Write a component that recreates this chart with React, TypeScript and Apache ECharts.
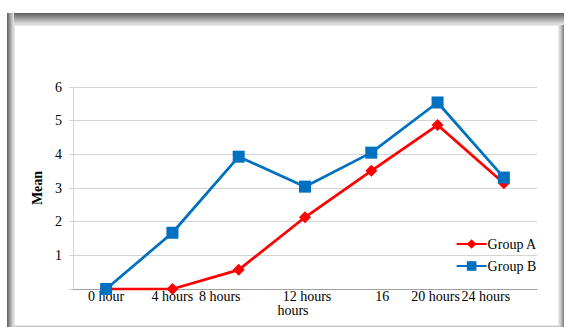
import React, { useEffect, useRef } from "react";
import * as echarts from "echarts";

const categories = ["0 hour", "4 hours", "8 hours", "12 hours\nhours", "16", "20 hours", "24 hours"];
const groupA = [0, 0, 0.57, 2.13, 3.51, 4.87, 3.14];
const groupB = [0, 1.67, 3.93, 3.04, 4.05, 5.54, 3.31];
const yTicks = [0, 1, 2, 3, 4, 5, 6];

const FONT = "'Liberation Serif', 'Times New Roman', serif";

export default function App() {
  const ref = useRef<HTMLDivElement>(null);
  useEffect(() => {
    document.body.style.margin = "0";
    const chart = echarts.init(ref.current!, null, { renderer: "svg" });
    const labelShift: Record<number, number[]> = {
      0: [0, 0, 0, 0],
      1: [0, 0, 0, 0],
      2: [0, 38, 0, 0],
      4: [0, 0, 0, 22],
      5: [0, 4, 0, 0],
      6: [0, 36, 0, 0],
    };
    const base = { fontFamily: FONT, fontSize: 14, color: "#000", lineHeight: 14 };
    const rich: any = {
      l3a: { ...base, padding: [0, 0, 0, 4] },
      l3b: { ...base, padding: [0, 24, 0, 0] },
    };
    Object.keys(labelShift).forEach((k) => {
      rich["l" + k] = { ...base, padding: labelShift[+k] };
    });
    chart.setOption({
      animation: false,
      graphic: [
        { type: "rect", z: -100, shape: { x: 7, y: 13, width: 557, height: 320 }, style: { fill: "#b5b5b5" } },
        {
          type: "rect", z: -99, shape: { x: 7, y: 13, width: 557, height: 12 },
          style: { fill: new echarts.graphic.LinearGradient(0, 0, 0, 1, [{ offset: 0, color: "#5e5e5e" }, { offset: 1, color: "#ececec" }]) },
        },
        {
          type: "rect", z: -98, shape: { x: 7, y: 13, width: 7, height: 320 },
          style: { fill: new echarts.graphic.LinearGradient(0, 0, 1, 0, [{ offset: 0, color: "#5e5e5e" }, { offset: 1, color: "#ececec" }]) },
        },
        {
          type: "rect", z: -98, shape: { x: 559, y: 25, width: 5, height: 310 },
          style: { fill: new echarts.graphic.LinearGradient(0, 0, 1, 0, [{ offset: 0, color: "#f2f2f2" }, { offset: 1, color: "#7a7a7a" }]) },
        },
        { type: "rect", z: -97, shape: { x: 14, y: 25, width: 545, height: 301 }, style: { fill: "#ffffff", stroke: "#d0d0d0", lineWidth: 1 } },
      ],
      grid: { left: 73, right: 29, top: 87, bottom: 38, containLabel: false },
      legend: {
        orient: "vertical",
        right: 24,
        top: 232,
        itemWidth: 30,
        itemHeight: 12,
        itemGap: 8,
        textStyle: { fontFamily: FONT, fontSize: 14, color: "#000", padding: [0, 0, 0, -4] },
        data: ["Group A", "Group B"],
      },
      xAxis: {
        type: "category",
        data: categories,
        boundaryGap: true,
        axisLine: { lineStyle: { color: "#a0a0a0", width: 1 } },
        axisTick: { show: false },
        axisLabel: {
          margin: 0,
          interval: 0,
          fontFamily: FONT,
          fontSize: 14,
          color: "#000",
          rich,
          formatter: (v: string, i: number) => {
            if (i === 3) {
              const parts = v.split("\n");
              return `{l3a|${parts[0]}}\n{l3b|${parts[1]}}`;
            }
            return `{l${i}|${v}}`;
          },
        },
      },
      yAxis: {
        type: "value",
        min: yTicks[0],
        max: yTicks[yTicks.length - 1],
        interval: 1,
        name: "Mean",
        nameLocation: "middle",
        nameGap: 23,
        nameTextStyle: { fontFamily: FONT, fontSize: 14, fontWeight: "bold", color: "#000" },
        axisLine: { show: true, lineStyle: { color: "#d4d4d4" } },
        axisTick: { show: true, length: 4, lineStyle: { color: "#d4d4d4" } },
        splitLine: { lineStyle: { color: "#d4d4d4" } },
        axisLabel: {
          margin: 11,
          fontFamily: FONT,
          fontSize: 14,
          color: "#000",
          formatter: (v: number) => (v === 0 ? "" : String(v)),
        },
      },
      series: [
        {
          name: "Group A",
          type: "line",
          data: groupA,
          symbol: "diamond",
          symbolSize: 12,
          lineStyle: { color: "#ff0000", width: 2.75 },
          itemStyle: { color: "#ff0000" },
        },
        {
          name: "Group B",
          type: "line",
          data: groupB,
          symbol: "rect",
          symbolSize: 12,
          lineStyle: { color: "#0070c0", width: 2.75 },
          itemStyle: { color: "#0070c0" },
        },
      ],
    });
    return () => chart.dispose();
  }, []);
  return <div ref={ref} style={{ position: "absolute", left: 0, top: 0, width: 566, height: 327 }} />;
}
